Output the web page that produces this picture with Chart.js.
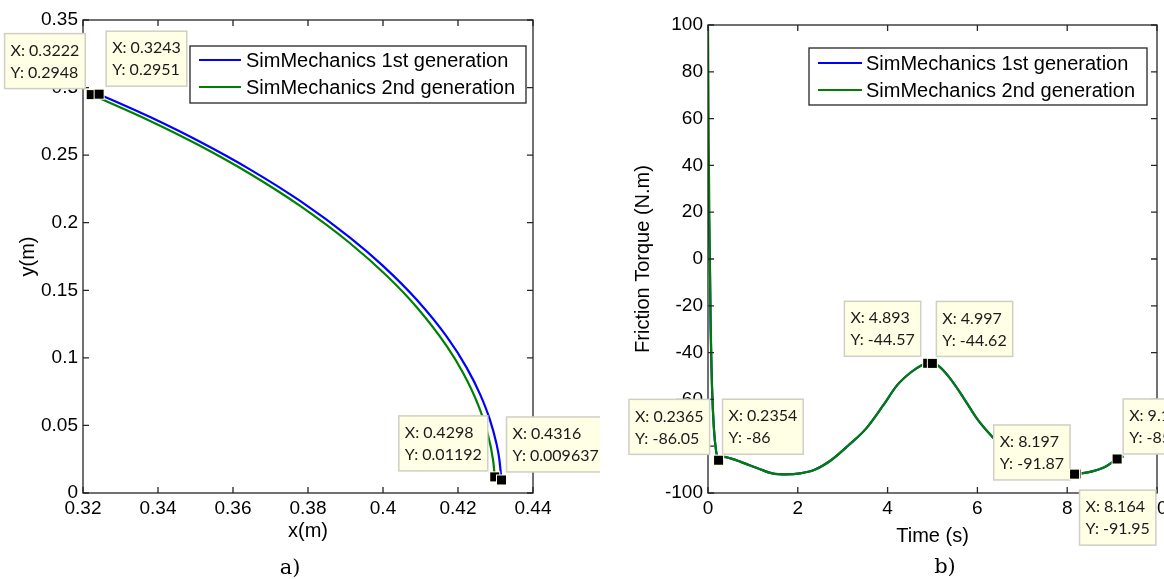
<!DOCTYPE html>
<html><head><meta charset="utf-8">
<script src="https://cdn.jsdelivr.net/npm/chart.js@4.4.1/dist/chart.umd.min.js"></script>
<style>
html,body{margin:0;padding:0;background:#fff;width:1164px;height:579px;overflow:hidden;position:relative;}
#wrapA{position:absolute;left:0;top:0;width:600px;height:579px;}
#wrapB{position:absolute;left:600px;top:0;width:580px;height:579px;}
.cap{position:absolute;font-family:"DejaVu Serif",serif;font-size:21px;color:#000;transform:translate(-50%,-50%);white-space:nowrap;}
</style></head><body>
<div id="wrapA"><canvas id="cA"></canvas></div>
<div id="wrapB"><canvas id="cB"></canvas></div>
<div class="cap" style="left:290px;top:567px">a)</div>
<div class="cap" style="left:945px;top:566px">b)</div>
<script>
// ---------------- data ----------------
const seriesNames = ['SimMechanics 1st generation', 'SimMechanics 2nd generation'];

// panel a) trajectory
const trajBlueX  = [0.3243, 0.3379, 0.3512, 0.3645, 0.3779, 0.3912, 0.4000, 0.4090, 0.4170, 0.4223, 0.4259, 0.4285, 0.4302, 0.4310, 0.4316];
const trajBlueY  = [0.2951, 0.2782, 0.2599, 0.2395, 0.2161, 0.1890, 0.1681, 0.1430, 0.1157, 0.0928, 0.0730, 0.0543, 0.0372, 0.0254, 0.009637];
const trajGreenX = [0.3222, 0.3379, 0.3512, 0.3645, 0.3779, 0.3912, 0.4010, 0.4090, 0.4170, 0.4214, 0.4250, 0.4276, 0.4294, 0.4298];
const trajGreenY = [0.2948, 0.2753, 0.2569, 0.2362, 0.2124, 0.1848, 0.1607, 0.1374, 0.1086, 0.0886, 0.0677, 0.0470, 0.0235, 0.01192];
const trajXTicks = [0.32, 0.34, 0.36, 0.38, 0.4, 0.42, 0.44];
const trajYTicks = [0, 0.05, 0.1, 0.15, 0.2, 0.25, 0.3, 0.35];
const trajTipX = [0.3222, 0.3243, 0.4298, 0.4316];
const trajTipY = [0.2948, 0.2951, 0.01192, 0.009637];
const trajTipXText = ['0.3222', '0.3243', '0.4298', '0.4316'];
const trajTipYText = ['0.2948', '0.2951', '0.01192', '0.009637'];

// panel b) friction torque
const torqueBlueT  = [0, 0.02, 0.04, 0.06, 0.09, 0.13, 0.18, 0.2354, 0.35, 0.5, 0.73, 1.12, 1.43, 1.74, 2.05, 2.36, 2.74, 3.13, 3.52, 3.90, 4.21, 4.52, 4.75, 4.893, 4.997, 5.14, 5.37, 5.68, 5.99, 6.30, 6.68, 7.07, 7.46, 7.77, 8.164, 8.197, 8.46, 8.85, 9.112, 9.25];
const torqueBlueV  = [48, 20, 2, -30, -55, -72, -82, -86, -84.6, -85.2, -86.7, -89.5, -91.6, -92.0, -91.6, -90.2, -86.0, -79.6, -72.5, -62.6, -54.0, -48.4, -45.5, -44.57, -44.62, -45.8, -50.5, -59.0, -68.2, -75.3, -82.4, -87.4, -90.2, -91.6, -91.95, -91.87, -91.2, -88.8, -85.47, -84.3];
const torqueGreenT = [0, 0.02, 0.04, 0.06, 0.09, 0.13, 0.18, 0.2365, 0.35, 0.5, 0.73, 1.12, 1.43, 1.74, 2.05, 2.36, 2.74, 3.13, 3.52, 3.90, 4.21, 4.52, 4.75, 4.893, 4.997, 5.14, 5.37, 5.68, 5.99, 6.30, 6.68, 7.07, 7.46, 7.77, 8.164, 8.197, 8.46, 8.85, 9.112, 9.25];
const torqueGreenV = [100, 40, 0, -30, -55, -72, -82, -86.05, -84.6, -85.2, -86.7, -89.5, -91.6, -92.0, -91.6, -90.2, -86.0, -79.6, -72.5, -62.6, -54.0, -48.4, -45.5, -44.57, -44.62, -45.8, -50.5, -59.0, -68.2, -75.3, -82.4, -87.4, -90.2, -91.6, -91.95, -91.87, -91.2, -88.8, -85.47, -84.3];
const timeTicks = [0, 2, 4, 6, 8, 10];
const torqueTicks = [-100, -80, -60, -40, -20, 0, 20, 40, 60, 80, 100];
const torqueTipT = [0.2365, 0.2354, 4.893, 4.997, 8.197, 8.164, 9.112];
const torqueTipV = [-86.05, -86, -44.57, -44.62, -91.87, -91.95, -85.47];
const torqueTipTText = ['0.2365', '0.2354', '4.893', '4.997', '8.197', '8.164', '9.112'];
const torqueTipVText = ['-86.05', '-86', '-44.57', '-44.62', '-91.87', '-91.95', '-85.47'];

// ---------------- styles ----------------
const AX_FONT = '"Liberation Sans", Arial, sans-serif';
const TIP_FONT = '16px Lato, "Open Sans", sans-serif';
const BLUE = '#0000ff', GREEN = '#008000';
// box placement relative to marker: corner direction and gaps (px)
const trajTipPlace = [
  {dir:'tl', gx:6, gy:6}, {dir:'tr', gx:7, gy:8}, {dir:'tl', gx:7, gy:6}, {dir:'tr', gx:5, gy:8}
];
const torqueTipPlace = [
  {dir:'tl', gx:9, gy:6}, {dir:'tr', gx:4, gy:6}, {dir:'tl', gx:7, gy:7}, {dir:'tr', gx:4, gy:7},
  {dir:'tl', gx:6, gy:-6}, {dir:'br', gx:5, gy:16}, {dir:'tr', gx:6, gy:5}
];

function pts(xs, ys){ return xs.map((x,i)=>({x:x, y:ys[i]})); }
function fmt(v){ return String(+Number(v).toFixed(4)); }

function mkScale(o){
  return {
    type:'linear', min:o.min, max:o.max, position:o.position,
    grid:{display:false, drawTicks:false}, border:{display:false},
    afterBuildTicks: s => { s.ticks = o.ticks.map(v => ({value:v})); },
    afterFit: s => { if (o.horizontal) s.height = o.size; else s.width = o.size; },
    ticks:{color:'#000', font:{family:AX_FONT, size:19}, padding:o.pad, maxRotation:0, autoSkip:false, callback: v => fmt(v)},
    title:{display:true, text:o.title, color:'#000', font:{family:AX_FONT, size:20}, padding:o.titlePad}
  };
}

const decorPlugin = {
  id:'decor',
  afterDraw(chart, args, opt){
    const {ctx, chartArea:a, scales:{x, y}} = chart;
    ctx.save();
    // axes box and inward ticks
    ctx.strokeStyle = '#262626'; ctx.lineWidth = 1.3;
    ctx.strokeRect(a.left, a.top, a.right - a.left, a.bottom - a.top);
    const L = 6;
    ctx.beginPath();
    x.ticks.forEach(t => { const p = x.getPixelForValue(t.value);
      ctx.moveTo(p, a.bottom); ctx.lineTo(p, a.bottom - L); ctx.moveTo(p, a.top); ctx.lineTo(p, a.top + L); });
    y.ticks.forEach(t => { const p = y.getPixelForValue(t.value);
      ctx.moveTo(a.left, p); ctx.lineTo(a.left + L, p); ctx.moveTo(a.right, p); ctx.lineTo(a.right - L, p); });
    ctx.stroke();
    // legend
    const lg = opt.legend;
    ctx.fillStyle = '#fff'; ctx.fillRect(lg.x, lg.y, lg.w, lg.h);
    ctx.strokeStyle = '#262626'; ctx.lineWidth = 1.3; ctx.strokeRect(lg.x, lg.y, lg.w, lg.h);
    ctx.font = '20px ' + AX_FONT; ctx.textBaseline = 'middle'; ctx.textAlign = 'left';
    chart.data.datasets.forEach((d, i) => {
      const ry = lg.rows[i];
      ctx.strokeStyle = d.borderColor; ctx.lineWidth = 2;
      ctx.beginPath(); ctx.moveTo(lg.l1, ry); ctx.lineTo(lg.l2, ry); ctx.stroke();
      ctx.fillStyle = '#000'; ctx.fillText(d.label, lg.tx, ry + 1);
    });
    // data tips
    const tips = opt.tips;
    ctx.font = TIP_FONT;
    const boxes = tips.map(t => {
      const mx = x.getPixelForValue(t.x), my = y.getPixelForValue(t.y);
      const l1 = 'X: ' + t.xt, l2 = 'Y: ' + t.yt;
      const w = Math.max(ctx.measureText(l1).width, ctx.measureText(l2).width) + 12, h = 55;
      let bx, by;
      if (t.dir === 'tl') { bx = mx - t.gx - w; by = my - t.gy - h; }
      else if (t.dir === 'tr') { bx = mx + t.gx; by = my - t.gy - h; }
      else if (t.dir === 'br') { bx = mx + t.gx; by = my + t.gy; }
      else { bx = mx - t.gx - w; by = my + t.gy; }
      return {mx, my, l1, l2, bx, by, w, h};
    });
    boxes.forEach(b => {
      ctx.fillStyle = '#ffffe6'; ctx.fillRect(b.bx, b.by, b.w, b.h);
      ctx.strokeStyle = '#cfcfc4'; ctx.lineWidth = 1.5; ctx.strokeRect(b.bx, b.by, b.w, b.h);
      ctx.fillStyle = '#1a1a1a'; ctx.textBaseline = 'middle'; ctx.textAlign = 'left';
      ctx.fillText(b.l1, b.bx + 6, b.by + 17);
      ctx.fillText(b.l2, b.bx + 6, b.by + 39);
    });
    boxes.forEach(b => {
      ctx.fillStyle = '#ffffe6'; ctx.fillRect(b.mx - 5.5, b.my - 5.5, 11, 11);
      ctx.fillStyle = '#000'; ctx.fillRect(b.mx - 4.5, b.my - 4.5, 9, 9);
    });
    ctx.restore();
  }
};

// order: lower value is drawn on top (green over blue, as in the reference)
function lineDs(label, color, data, order){
  return {label, data, order, borderColor:color, backgroundColor:color, borderWidth:2.2, pointRadius:0,
    showLine:true, fill:false, cubicInterpolationMode:'monotone', borderJoinStyle:'round'};
}

Chart.defaults.animation = false;

new Chart(document.getElementById('cA'), {
  type:'scatter',
  data:{datasets:[
    lineDs(seriesNames[0], BLUE, pts(trajBlueX, trajBlueY), 1),
    lineDs(seriesNames[1], GREEN, pts(trajGreenX, trajGreenY), 0)
  ]},
  options:{
    responsive:true, maintainAspectRatio:false, devicePixelRatio:1,
    layout:{padding:{left:0, top:20, right:67, bottom:0}},
    scales:{
      x: mkScale({min:0.32, max:0.44, ticks:trajXTicks, horizontal:true, size:86, pad:4, position:'bottom', title:'x(m)', titlePad:{bottom:36}}),
      y: mkScale({min:0, max:0.35, ticks:trajYTicks, horizontal:false, size:83, pad:5, position:'left', title:'y(m)', titlePad:{top:16}})
    },
    plugins:{legend:{display:false}, tooltip:{enabled:false},
      decor:{
        legend:{x:190, y:46, w:336, h:57, rows:[60, 87], l1:199, l2:241, tx:246},
        tips: trajTipX.map((v,i) => Object.assign({x:v, y:trajTipY[i], xt:trajTipXText[i], yt:trajTipYText[i]}, trajTipPlace[i]))
      }}
  },
  plugins:[decorPlugin]
});

new Chart(document.getElementById('cB'), {
  type:'scatter',
  data:{datasets:[
    lineDs(seriesNames[0], BLUE, pts(torqueBlueT, torqueBlueV), 1),
    lineDs(seriesNames[1], GREEN, pts(torqueGreenT, torqueGreenV), 0)
  ]},
  options:{
    responsive:true, maintainAspectRatio:false, devicePixelRatio:1,
    layout:{padding:{left:0, top:25, right:23, bottom:0}},
    scales:{
      x: mkScale({min:0, max:10, ticks:timeTicks, horizontal:true, size:86, pad:4, position:'bottom', title:'Time (s)', titlePad:{bottom:31}}),
      y: mkScale({min:-100, max:100, ticks:torqueTicks, horizontal:false, size:108, pad:5, position:'left', title:'Friction Torque (N.m)', titlePad:{top:31}})
    },
    plugins:{legend:{display:false}, tooltip:{enabled:false},
      decor:{
        legend:{x:209, y:48, w:338, h:57, rows:[63, 90], l1:218, l2:262, tx:266},
        tips: torqueTipT.map((v,i) => Object.assign({x:v, y:torqueTipV[i], xt:torqueTipTText[i], yt:torqueTipVText[i]}, torqueTipPlace[i]))
      }}
  },
  plugins:[decorPlugin]
});
</script>
</body></html>
